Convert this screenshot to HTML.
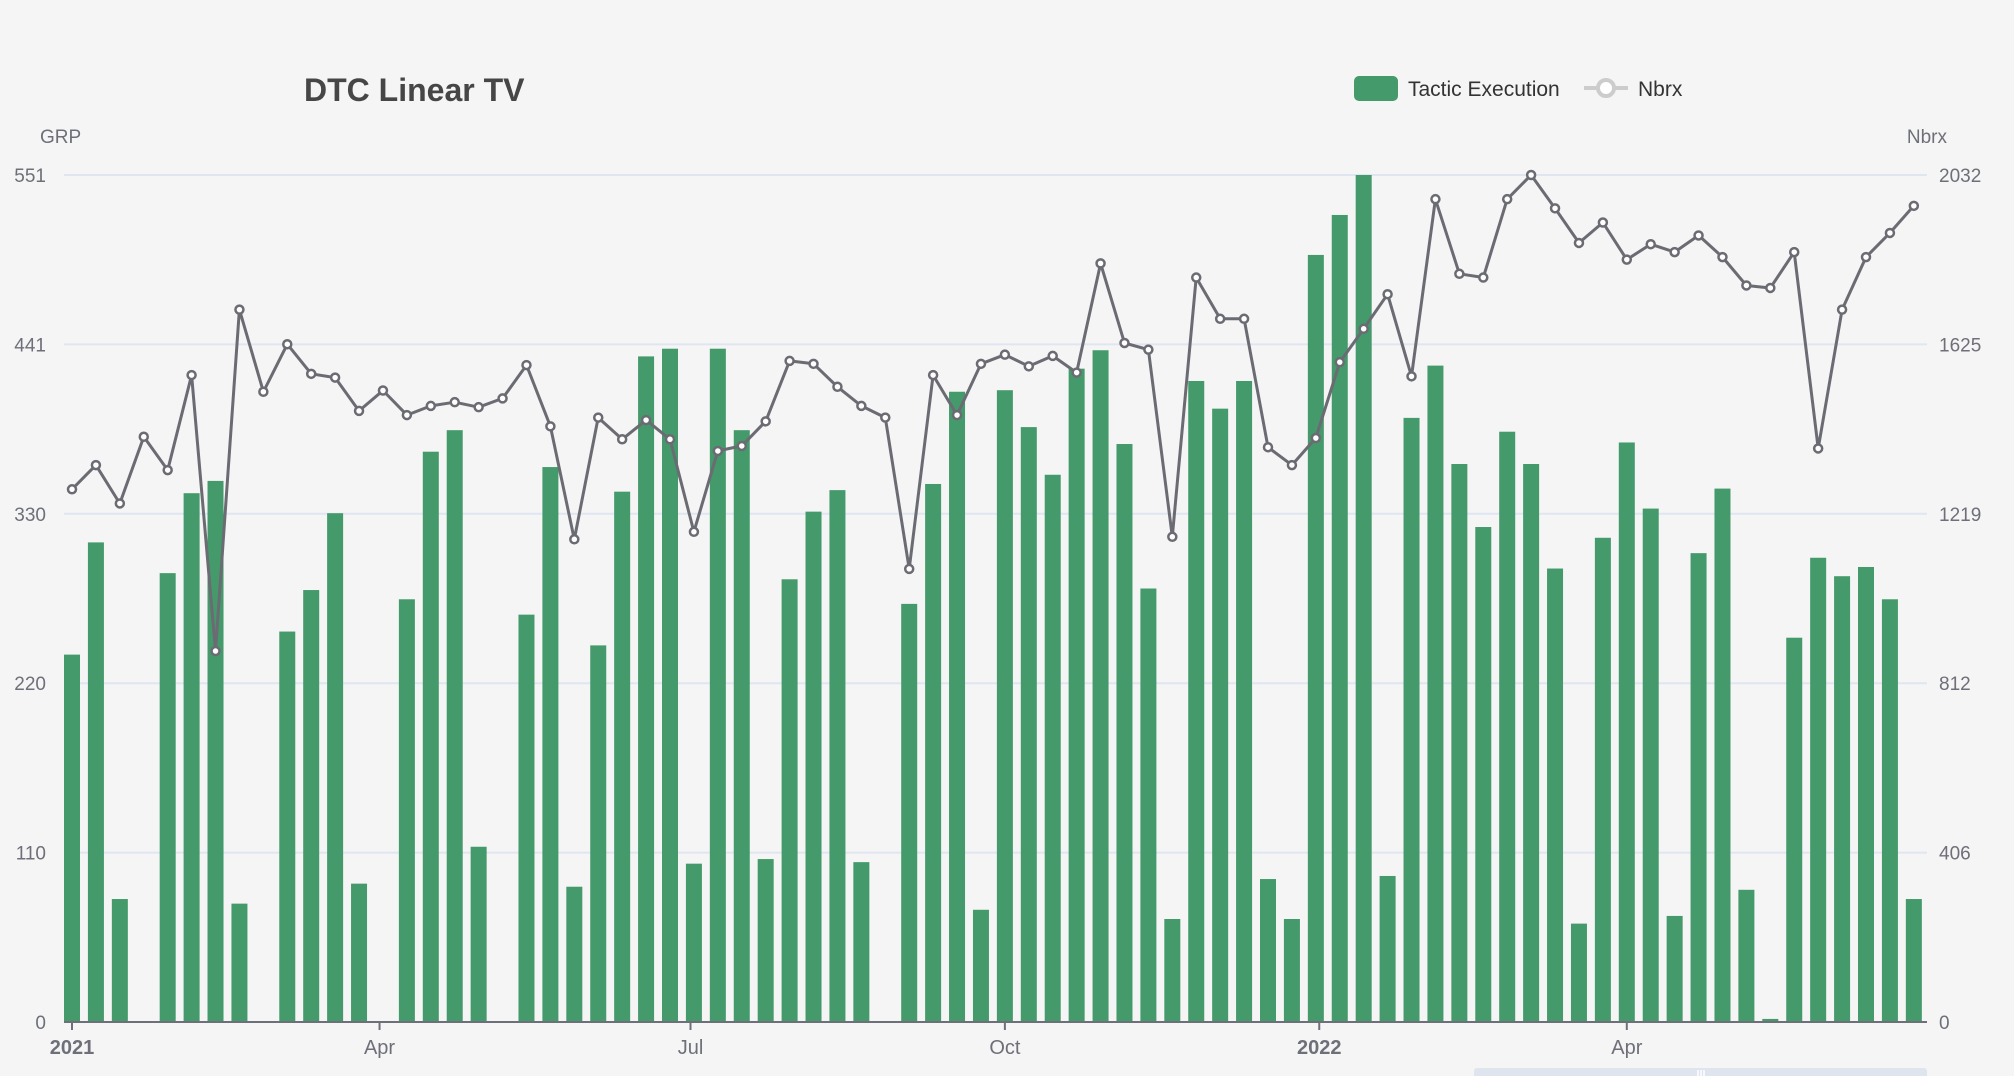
<!DOCTYPE html>
<html><head><meta charset="utf-8"><style>
html,body{margin:0;padding:0;background:#f5f5f5;}
svg{display:block;font-family:"Liberation Sans",sans-serif;}
</style></head><body>
<svg id="chart" width="2014" height="1076" viewBox="0 0 2014 1076">
<rect x="0" y="0" width="2014" height="1076" fill="#f5f5f5"/>
<text x="304" y="101" font-size="32" font-weight="bold" fill="#464646">DTC Linear TV</text>
<g>
<g>
<rect x="1354" y="76" width="44" height="25" rx="5" fill="#449a6b"/>
<text x="1408" y="96" font-size="21" fill="#333">Tactic Execution</text>
</g>
<g>
<line x1="1584" y1="88" x2="1628" y2="88" stroke="#ccc" stroke-width="4"/>
<circle cx="1606" cy="88" r="8" fill="#fff" stroke="#ccc" stroke-width="4"/>
<text x="1638" y="96" font-size="21" fill="#333">Nbrx</text>
</g>
</g>
<text x="40" y="143" font-size="19" fill="#6e7079">GRP</text>
<text x="1947" y="143" font-size="19" fill="#6e7079" text-anchor="end">Nbrx</text>
<g id="grid"></g><g id="bars"></g><g id="axes"></g><g id="line"></g>
<g>
<rect x="1474" y="1068" width="453" height="12" rx="3" fill="#dfe5ef"/>
<line x1="1698" y1="1070" x2="1698" y2="1076" stroke="#fff" stroke-width="1.5"/>
<line x1="1701" y1="1070" x2="1701" y2="1076" stroke="#fff" stroke-width="1.5"/>
<line x1="1704" y1="1070" x2="1704" y2="1076" stroke="#fff" stroke-width="1.5"/>
</g>
</svg>
<script>
const grpValues=[239,312,80,0,292,344,352,77,0,254,281,331,90,0,275,371,385,114,0,265,361,88,245,345,433,438,103,438,385,106,288,332,346,104,0,272,350,410,73,411,387,356,425,437,376,282,67,417,399,417,93,67,499,525,551,95,393,427,363,322,384,363,295,64,315,377,334,69,305,347,86,2,250,302,290,296,275,80];
const nbrxValues=[1278,1336,1244,1404,1324,1552,890,1709,1512,1626,1555,1546,1466,1515,1456,1478,1487,1475,1496,1576,1429,1158,1450,1398,1444,1398,1176,1370,1382,1441,1586,1579,1524,1478,1450,1087,1552,1456,1579,1601,1573,1598,1558,1820,1629,1613,1164,1786,1687,1687,1379,1336,1401,1583,1663,1746,1549,1974,1795,1786,1974,2032,1952,1869,1918,1829,1866,1847,1887,1835,1767,1761,1847,1376,1709,1835,1893,1958];
const leftTicks=["0","110","220","330","441","551"];
const rightTicks=["0","406","812","1219","1625","2032"];
const xTickLabels=["2021","Apr","Jul","Oct","2022","Apr"];
const xTickDays=[0,90,181,273,365,455];
const xTickBold=[true,false,false,false,true,false];

const NS="http://www.w3.org/2000/svg";
const L=64,R=1927,T=175,B=1022;
const GRPMAX=551,NMAX=2032;
const X0=72,PXDAY=23.92/7;
const xDay=d=>X0+d*PXDAY;
const xIdx=i=>xDay(i*7);
const yL=v=>B-v/GRPMAX*(B-T);
const yR=v=>B-v/NMAX*(B-T);
function mk(tag,attrs,parent,text){const e=document.createElementNS(NS,tag);for(const k in attrs)e.setAttribute(k,attrs[k]);if(text!==undefined)e.textContent=text;parent.appendChild(e);return e;}

const grid=document.getElementById('grid');
for(let k=0;k<leftTicks.length;k++){
  const y=B-k*(B-T)/(leftTicks.length-1);
  if(k>0){const g=mk('line',{x1:L,x2:R,y1:y,y2:y,stroke:'#e0e6f1','stroke-width':2},grid);
  
  }
  const t=mk('text',{x:46,y:y+7,'font-size':19,fill:'#6e7079','text-anchor':'end'},grid,leftTicks[k]);
  
  
  const t2=mk('text',{x:1939,y:y+7,'font-size':19,fill:'#6e7079'},grid,rightTicks[k]);
  
  
}
const bars=document.getElementById('bars');
grpValues.forEach((v,i)=>{
  const x=xIdx(i);
  const h=Math.max(v>0?B-yL(v):0,0);
  const r=mk('rect',{x:x-8,y:B-h,width:16,height:h,fill:'#449a6b'},bars);
  
  
});
const axes=document.getElementById('axes');
const ax=mk('line',{x1:L,x2:R,y1:B,y2:B,stroke:'#6e7079','stroke-width':2},axes);


xTickLabels.forEach((lab,k)=>{
  const x=xDay(xTickDays[k]);
  const tk=mk('line',{x1:x,x2:x,y1:B,y2:B+8,stroke:'#6e7079','stroke-width':2},axes);
  
  
  const t=mk('text',{x:x,y:B+32,'font-size':20,fill:'#6e7079','text-anchor':'middle','font-weight':xTickBold[k]?'bold':'normal'},axes,lab);
  
  
});
const lineG=document.getElementById('line');
const pts=nbrxValues.map((v,i)=>xIdx(i).toFixed(1)+','+yR(v).toFixed(1)).join(' ');
const pl=mk('polyline',{points:pts,fill:'none',stroke:'#6b6b73','stroke-width':3,'stroke-linejoin':'round'},lineG);


nbrxValues.forEach((v,i)=>{
  const c=mk('circle',{cx:xIdx(i),cy:yR(v),r:4,fill:'#fff',stroke:'#6b6b73','stroke-width':2.5},lineG);
  
  
});
</script>
</body></html>
